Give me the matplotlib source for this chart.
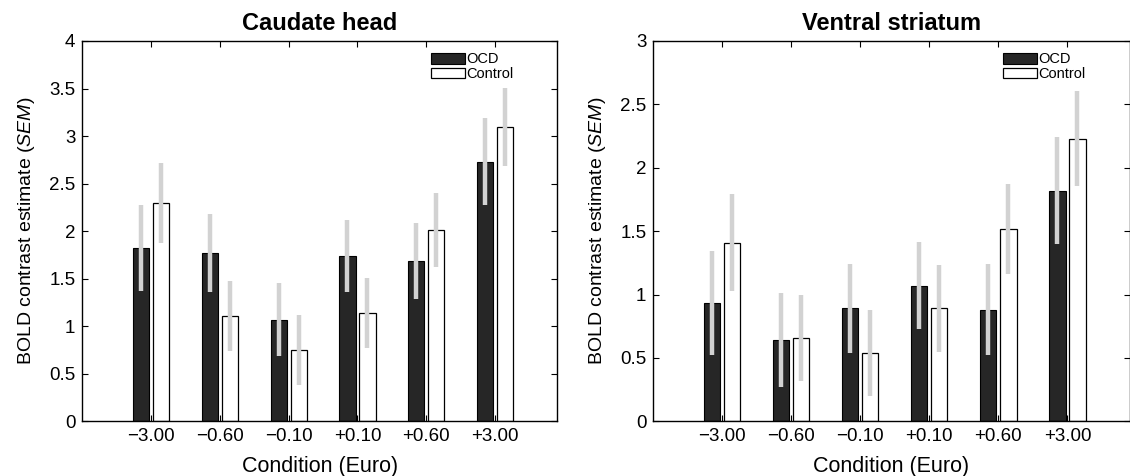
import numpy as np
import matplotlib
matplotlib.use("Agg")
import matplotlib.pyplot as plt
from matplotlib.patches import Patch
from matplotlib.ticker import FormatStrFormatter

matplotlib.rcParams['font.family'] = ['Liberation Sans', 'DejaVu Sans']
matplotlib.rcParams['axes.unicode_minus'] = True
matplotlib.rcParams['mathtext.fontset'] = 'custom'
matplotlib.rcParams['mathtext.rm'] = 'Liberation Sans'
matplotlib.rcParams['mathtext.it'] = 'Liberation Sans:italic'

conditions = ['\u22123.00', '\u22120.60', '\u22120.10', '+0.10', '+0.60', '+3.00']

caudate_ocd = [1.82, 1.77, 1.07, 1.74, 1.69, 2.73]
caudate_ocd_sem = [0.45, 0.41, 0.38, 0.38, 0.40, 0.46]
caudate_ctl = [2.30, 1.11, 0.75, 1.14, 2.01, 3.10]
caudate_ctl_sem = [0.42, 0.37, 0.37, 0.37, 0.39, 0.41]

ventral_ocd = [0.93, 0.64, 0.89, 1.07, 0.88, 1.82]
ventral_ocd_sem = [0.41, 0.37, 0.35, 0.345, 0.36, 0.42]
ventral_ctl = [1.41, 0.66, 0.54, 0.89, 1.52, 2.23]
ventral_ctl_sem = [0.385, 0.34, 0.34, 0.34, 0.355, 0.375]

ocd_clr = '#262626'
err_clr = '#d2d2d2'
bar_w = 0.235
off = 0.145


def plot_panel(ax, title, ocd, ocd_sem, ctl, ctl_sem, ymax, yticks):
    xs = np.arange(1, len(conditions) + 1)
    ax.bar(xs - off, ocd, bar_w, color=ocd_clr, edgecolor='black', linewidth=0.8, zorder=2)
    ax.bar(xs + off, ctl, bar_w, color='white', edgecolor='black', linewidth=0.9, zorder=2)

    # SEM drawn as thick grey strokes over the bars
    ocd, ocd_sem = np.array(ocd), np.array(ocd_sem)
    ctl, ctl_sem = np.array(ctl), np.array(ctl_sem)
    ax.vlines(xs - off, ocd - ocd_sem, ocd + ocd_sem, color=err_clr, linewidth=3.2, zorder=3)
    ax.vlines(xs + off, ctl - ctl_sem, ctl + ctl_sem, color=err_clr, linewidth=3.2, zorder=3)

    ax.set_xlim(0, 6.9)
    ax.set_ylim(0, ymax)
    ax.set_xticks(xs)
    ax.set_xticklabels(conditions)
    ax.set_yticks(yticks)
    ax.yaxis.set_major_formatter(FormatStrFormatter('%g'))
    ax.tick_params(direction='in', top=True, right=True, length=4, width=0.8,
                   labelsize=13.5, pad=5)
    for sp in ax.spines.values():
        sp.set_linewidth(1.0)

    ax.set_title(title, fontsize=17, fontweight='bold', pad=8)
    ax.set_xlabel('Condition (Euro)', fontsize=15.5, labelpad=8)
    ax.set_ylabel('BOLD contrast estimate $\\mathit{(SEM)}$', fontsize=14, labelpad=9)

    handles = [Patch(facecolor=ocd_clr, edgecolor='black', linewidth=0.8),
               Patch(facecolor='white', edgecolor='black', linewidth=0.9)]
    ax.legend(handles, ['OCD', 'Control'], loc='upper left', bbox_to_anchor=(0.735, 0.97),
              frameon=False, fontsize=10.5, handlelength=2.3, handleheight=0.75,
              handletextpad=0.1, labelspacing=0.05, borderpad=0, borderaxespad=0)


fig = plt.figure(figsize=(11.3, 4.76), dpi=100)
ax1 = fig.add_axes([0.0728, 0.1149, 0.4201, 0.7990])
ax2 = fig.add_axes([0.5781, 0.1149, 0.4215, 0.7990])

plot_panel(ax1, 'Caudate head', caudate_ocd, caudate_ocd_sem, caudate_ctl, caudate_ctl_sem,
           4, np.arange(0, 4.01, 0.5))
plot_panel(ax2, 'Ventral striatum', ventral_ocd, ventral_ocd_sem, ventral_ctl, ventral_ctl_sem,
           3, np.arange(0, 3.01, 0.5))

fig.savefig('out.png', dpi=100)
